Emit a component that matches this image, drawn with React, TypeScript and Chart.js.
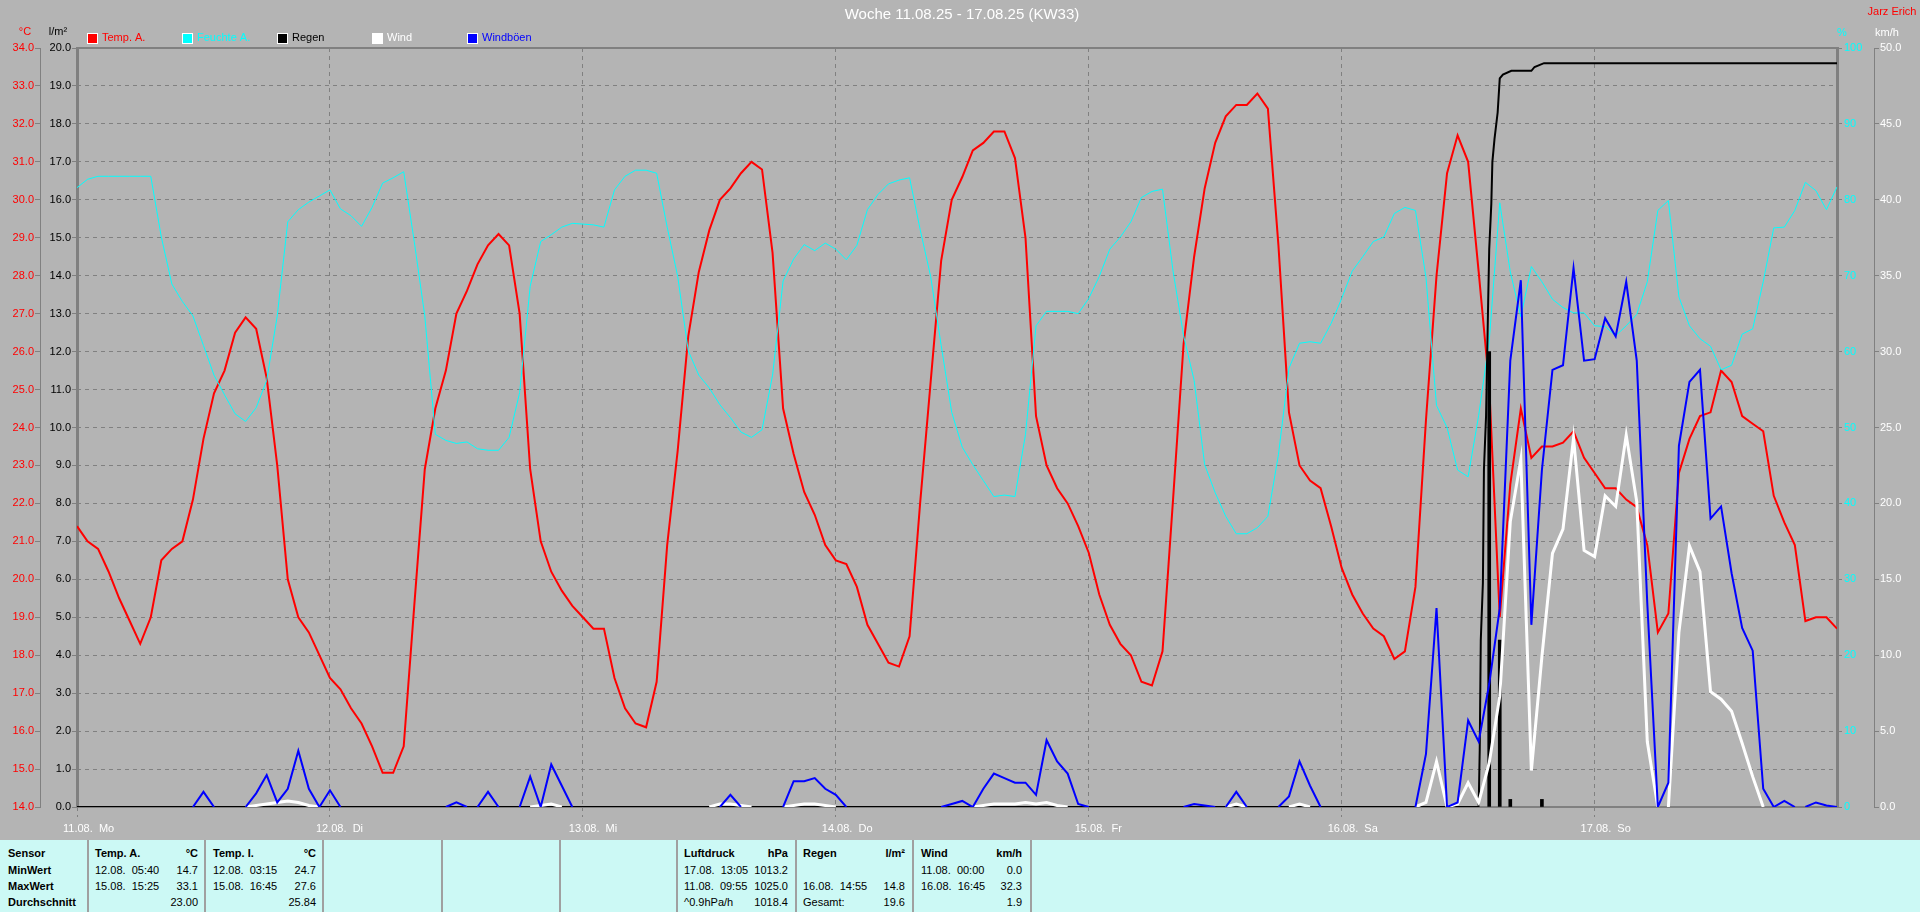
import React, { useEffect, useRef } from "react";
import { Chart, registerables } from "chart.js";

Chart.register(...registerables);

// ---------- data (hourly, hour 0 = 11.08. 00:00) ----------
const dayLabels = ["11.08.  Mo", "12.08.  Di", "13.08.  Mi", "14.08.  Do", "15.08.  Fr", "16.08.  Sa", "17.08.  So"];

const tempA = [
  21.4, 21.0, 20.8, 20.2, 19.5, 18.9, 18.3, 19.0, 20.5, 20.8, 21.0, 22.1, 23.7, 24.9, 25.5, 26.5, 26.9, 26.6, 25.3, 23.0, 20.0, 19.0, 18.6, 18.0,
  17.4, 17.1, 16.6, 16.2, 15.6, 14.9, 14.9, 15.6, 19.3, 22.9, 24.5, 25.5, 27.0, 27.6, 28.3, 28.8, 29.1, 28.8, 27.0, 22.9, 21.0, 20.2, 19.7, 19.3,
  19.0, 18.7, 18.7, 17.4, 16.6, 16.2, 16.1, 17.3, 20.9, 23.4, 26.4, 28.1, 29.2, 30.0, 30.3, 30.7, 31.0, 30.8, 28.6, 24.5, 23.3, 22.3, 21.7, 20.9,
  20.5, 20.4, 19.8, 18.8, 18.3, 17.8, 17.7, 18.5, 22.0, 25.2, 28.4, 30.0, 30.6, 31.3, 31.5, 31.8, 31.8, 31.1, 29.0, 24.3, 23.0, 22.4, 22.0, 21.4,
  20.7, 19.6, 18.8, 18.3, 18.0, 17.3, 17.2, 18.1, 22.1, 26.2, 28.5, 30.3, 31.5, 32.2, 32.5, 32.5, 32.8, 32.4, 28.8, 24.4, 23.0, 22.6, 22.4, 21.4,
  20.3, 19.6, 19.1, 18.7, 18.5, 17.9, 18.1, 19.8, 24.2, 28.0, 30.7, 31.7, 31.0, 28.1, 25.1, 19.0, 22.5, 24.5, 23.2, 23.5, 23.5, 23.6, 23.9, 23.2,
  22.8, 22.4, 22.4, 22.1, 21.9, 20.9, 18.6, 19.1, 22.8, 23.7, 24.3, 24.4, 25.5, 25.2, 24.3, 24.1, 23.9, 22.2, 21.5, 20.9, 18.9, 19.0, 19.0, 18.7,
];

const feuchteA = [
  81.6, 82.7, 83.1, 83.1, 83.1, 83.1, 83.1, 83.1, 75.1, 68.9, 66.6, 64.7, 60.8, 56.9, 54.3, 51.8, 50.8, 52.6, 56.2, 64.7, 77.1, 78.7, 79.7, 80.5,
  81.3, 78.8, 77.9, 76.5, 79.0, 82.2, 82.9, 83.7, 74.5, 64.7, 49.1, 48.3, 47.9, 48.1, 47.2, 47.0, 47.0, 48.7, 54.6, 68.6, 74.5, 75.4, 76.4, 76.9,
  76.8, 76.7, 76.4, 81.3, 83.1, 83.9, 83.9, 83.5, 76.4, 69.9, 60.1, 56.9, 55.2, 53.0, 51.3, 49.4, 48.7, 49.7, 56.9, 69.3, 72.2, 74.1, 73.3, 74.3,
  73.5, 72.1, 74.0, 78.7, 80.7, 82.1, 82.6, 82.9, 76.1, 69.9, 60.8, 52.0, 47.4, 45.1, 43.0, 40.9, 41.1, 40.9, 49.1, 63.4, 65.3, 65.3, 65.3, 65.0,
  67.0, 69.9, 73.5, 75.1, 77.1, 80.3, 81.1, 81.4, 70.6, 62.1, 56.2, 45.1, 41.4, 38.3, 36.0, 36.0, 36.8, 38.3, 46.4, 57.8, 61.1, 61.3, 61.1, 63.7,
  67.0, 70.6, 72.5, 74.5, 75.1, 78.2, 79.0, 78.6, 69.8, 52.9, 50.0, 44.4, 43.5, 51.6, 61.4, 79.6, 70.5, 64.6, 71.2, 69.2, 66.9, 65.8, 65.1, 65.1,
  63.4, 63.3, 62.1, 63.4, 64.9, 69.2, 78.6, 79.9, 67.2, 63.4, 61.7, 60.7, 57.6, 58.2, 62.3, 63.0, 69.2, 76.3, 76.4, 78.6, 82.3, 81.2, 78.7, 81.7,
];

const windboeen = [
  0, 0, 0, 0, 0, 0, 0, 0, 0, 0, 0, 0, 1.0, 0, 0, 0, 0, 0.9, 2.1, 0.3, 1.2, 3.7, 1.2, 0,
  1.1, 0, 0, 0, 0, 0, 0, 0, 0, 0, 0, 0, 0.3, 0, 0, 1.0, 0, 0, 0, 2.0, 0, 2.8, 1.4, 0,
  0, 0, 0, 0, 0, 0, 0, 0, 0, 0, 0, 0, 0, 0, 0.8, 0, 0, 0, 0, 0, 1.7, 1.7, 1.9, 1.2,
  0.8, 0, 0, 0, 0, 0, 0, 0, 0, 0, 0, 0.2, 0.4, 0, 1.2, 2.2, 1.9, 1.6, 1.6, 0.8, 4.4, 3.0, 2.2, 0.2,
  0, 0, 0, 0, 0, 0, 0, 0, 0, 0, 0.2, 0.1, 0, 0, 1.0, 0, 0, 0, 0, 0.7, 3.0, 1.4, 0, 0,
  0, 0, 0, 0, 0, 0, 0, 0, 3.5, 13.1, 0, 0.3, 5.7, 4.3, 8.1, 13.1, 29.4, 34.7, 12.0, 22.2, 28.8, 29.1, 35.5, 29.4,
  29.5, 32.2, 31.0, 34.6, 29.4, 13.4, 0, 1.6, 23.8, 28.0, 28.8, 19.0, 19.8, 15.4, 11.8, 10.3, 1.2, 0, 0.4, 0, 0, 0.3, 0.1, 0,
];

const wind = [
  0, 0, 0, 0, 0, 0, 0, 0, 0, 0, 0, 0, 0, 0, 0, 0, 0, 0.1, 0.2, 0.3, 0.4, 0.3, 0.1, 0,
  0, 0, 0, 0, 0, 0, 0, 0, 0, 0, 0, 0, 0, 0, 0, 0, 0, 0, 0, 0, 0.1, 0.2, 0, 0,
  0, 0, 0, 0, 0, 0, 0, 0, 0, 0, 0, 0, 0, 0.2, 0.2, 0.1, 0, 0, 0, 0, 0.1, 0.2, 0.2, 0.1,
  0, 0, 0, 0, 0, 0, 0, 0, 0, 0, 0, 0, 0, 0, 0.1, 0.2, 0.2, 0.2, 0.3, 0.2, 0.3, 0.1, 0, 0,
  0, 0, 0, 0, 0, 0, 0, 0, 0, 0, 0, 0, 0, 0, 0.2, 0, 0, 0, 0, 0, 0.2, 0, 0, 0,
  0, 0, 0, 0, 0, 0, 0, 0, 0.3, 3.0, 0, 0.2, 1.6, 0.3, 2.9, 7.3, 18.8, 22.9, 2.4, 9.9, 16.7, 18.3, 24.3, 16.9,
  16.5, 20.5, 19.8, 24.5, 20.1, 4.3, 0, 0, 11.5, 17.2, 15.5, 7.6, 7.1, 6.3, 4.2, 2.0, 0, 0, 0, 0, 0, 0, 0, 0,
];

const rainCumHours = [0, 133.0, 133.1, 133.2, 133.4, 133.5, 133.7, 133.9, 134.0, 134.2, 134.3, 134.5, 134.8, 135.0, 135.3, 136.1, 138.0, 138.3, 139.2, 167];
const rainCumValues = [0, 0, 1.5, 4.4, 5.9, 8.9, 10.3, 13.3, 14.7, 15.9, 17.0, 17.6, 18.3, 19.2, 19.3, 19.4, 19.4, 19.5, 19.6, 19.6];

const rainBarHours = [134, 135, 136, 139];
const rainBarValues = [12.0, 4.4, 0.2, 0.2];

const legendNames = ["Temp. A.", "Feuchte A.", "Regen", "Wind", "Windböen"];
const legendColors = ["#ff0000", "#00ffff", "#000000", "#ffffff", "#0000ff"];

const tableRowLabels = ["Sensor", "MinWert", "MaxWert", "Durchschnitt"];
const tableTitles = ["Temp. A.", "Temp. I.", "Luftdruck", "Regen", "Wind"];
const tableUnits = ["°C", "°C", "hPa", "l/m²", "km/h"];
const tableDates = [
  ["12.08.  05:40", "15.08.  15:25", ""],
  ["12.08.  03:15", "15.08.  16:45", ""],
  ["17.08.  13:05", "11.08.  09:55", "^0.9hPa/h"],
  ["", "16.08.  14:55", "Gesamt:"],
  ["11.08.  00:00", "16.08.  16:45", ""],
];
const tableValues = [
  ["14.7", "33.1", "23.00"],
  ["24.7", "27.6", "25.84"],
  ["1013.2", "1025.0", "1018.4"],
  ["", "14.8", "19.6"],
  ["0.0", "32.3", "1.9"],
];

// ---------- layout constants ----------
const FONT = "'Liberation Sans', Arial, sans-serif";
const colLeft = [95, 213, 684, 803, 921];
const colRight = [198, 316, 788, 905, 1022];
const separators = [88, 205, 323, 442, 560, 677, 796, 913, 1031];
const rowCenters = [853, 870, 886, 902];

const xy = (arr: number[]) => arr.map((y, i) => ({ x: i, y }));
const pairs = (xs: number[], ys: number[]) => xs.map((x, i) => ({ x, y: ys[i] }));
const hideZero = (ctx: any) =>
  ctx.p0.parsed.y === 0 && ctx.p1.parsed.y === 0 ? "rgba(0,0,0,0)" : undefined;

const overlayPlugin = {
  id: "overlay",
  beforeDatasetsDraw(chart: any) {
    const { ctx, chartArea: a } = chart;
    ctx.save();
    ctx.setLineDash([]);
    ctx.strokeStyle = "#808080";
    ctx.lineWidth = 2;
    ctx.beginPath();
    ctx.moveTo(a.left, a.bottom);
    ctx.lineTo(a.right, a.bottom);
    ctx.stroke();
    ctx.beginPath();
    ctx.moveTo(a.left - 1, a.top);
    ctx.lineTo(a.right + 1, a.top);
    ctx.stroke();
    ctx.lineWidth = 3;
    ctx.beginPath();
    ctx.moveTo(a.left + 0.5, a.top - 1);
    ctx.lineTo(a.left + 0.5, a.bottom + 1);
    ctx.stroke();
    ctx.beginPath();
    ctx.moveTo(a.right + 0.5, a.top - 1);
    ctx.lineTo(a.right + 0.5, a.bottom + 1);
    ctx.stroke();
    ctx.restore();
  },
  afterDraw(chart: any) {
    const { ctx } = chart;
    ctx.save();
    ctx.textBaseline = "middle";
    // title
    ctx.font = `15px ${FONT}`;
    ctx.fillStyle = "#ffffff";
    ctx.textAlign = "center";
    ctx.fillText("Woche 11.08.25 - 17.08.25 (KW33)", 962, 15);
    // author
    ctx.font = `11px ${FONT}`;
    ctx.fillStyle = "#ff0000";
    ctx.fillText("Jarz Erich", 1892, 12);
    // axis titles
    ctx.fillStyle = "#ff0000";
    ctx.fillText("°C", 25, 32);
    ctx.fillStyle = "#000000";
    ctx.fillText("l/m²", 58, 32);
    ctx.fillStyle = "#00ffff";
    ctx.fillText("%", 1842, 33);
    ctx.fillStyle = "#ffffff";
    ctx.fillText("km/h", 1887, 33);
    // legend
    ctx.textAlign = "left";
    legendNames.forEach((name, i) => {
      const x = 87 + i * 95;
      ctx.fillStyle = legendColors[i];
      ctx.fillRect(x, 33, 10, 10);
      ctx.strokeStyle = "#ffffff";
      ctx.lineWidth = 1;
      ctx.strokeRect(x + 0.5, 33.5, 10, 10);
      ctx.fillStyle = legendColors[i];
      ctx.fillText(name, x + 15, 38);
    });
    ctx.restore();
  },
};

const tickFont = { family: FONT, size: 11 };

export default function App() {
  const ref = useRef<HTMLCanvasElement>(null);

  useEffect(() => {
    if (!ref.current) return;
    const chart = new Chart(ref.current, {
      type: "line",
      data: {
        datasets: [
          {
            label: "Windböen",
            data: xy(windboeen),
            yAxisID: "yW",
            borderColor: "#0000ff",
            borderWidth: 2,
            pointRadius: 0,
            segment: { borderColor: hideZero },
            order: 0,
          } as any,
          {
            label: "Wind",
            data: xy(wind),
            yAxisID: "yW",
            borderColor: "#ffffff",
            borderWidth: 3,
            pointRadius: 0,
            segment: { borderColor: hideZero },
            order: 1,
          },
          {
            label: "Regen",
            data: pairs(rainCumHours, rainCumValues),
            yAxisID: "yR",
            borderColor: "#000000",
            borderWidth: 2,
            pointRadius: 0,
            order: 2,
          },
          {
            type: "bar",
            label: "Regen/h",
            data: pairs(rainBarHours, rainBarValues),
            yAxisID: "yR",
            backgroundColor: "#000000",
            barThickness: 3,
            grouped: false,
            order: 2,
          },
          {
            label: "Feuchte A.",
            data: xy(feuchteA),
            yAxisID: "yH",
            borderColor: "#00ffff",
            borderWidth: 1,
            pointRadius: 0,
            order: 3,
          },
          {
            label: "Temp. A.",
            data: xy(tempA),
            yAxisID: "yT",
            borderColor: "#ff0000",
            borderWidth: 2,
            pointRadius: 0,
            order: 4,
          },
        ] as any,
      },
      options: {
        responsive: false,
        animation: false,
        devicePixelRatio: 1,
        layout: { padding: { top: 48, left: 0, right: 0, bottom: 0 } },
        plugins: { legend: { display: false }, tooltip: { enabled: false }, title: { display: false } },
        elements: { line: { tension: 0 }, point: { radius: 0 } },
        scales: {
          x: {
            type: "linear",
            position: "bottom",
            min: 0,
            max: 167,
            offset: false,
            afterFit: (s: any) => {
              s.height = 33;
            },
            grid: {
              offset: false,
              color: "#808080",
              lineWidth: 1,
              drawOnChartArea: true,
              drawTicks: true,
              tickLength: 10,
              tickColor: "#808080",
              tickBorderDash: [4, 4],
            },
            border: { display: false, dash: [4, 4] },
            ticks: {
              stepSize: 24,
              includeBounds: false,
              autoSkip: false,
              maxRotation: 0,
              minRotation: 0,
              align: "start",
              labelOffset: -14,
              padding: 5,
              color: "#ffffff",
              font: tickFont,
              callback: (v: any) => dayLabels[Math.round(Number(v) / 24)] ?? "",
            },
          },
          yT: {
            type: "linear",
            position: "left",
            weight: 2,
            min: 14,
            max: 34,
            afterFit: (s: any) => {
              s.width = 40;
            },
            ticks: { stepSize: 1, color: "#ff0000", padding: 1, font: tickFont, callback: (v: any) => Number(v).toFixed(1) },
            grid: { drawOnChartArea: false, tickLength: 5, tickColor: "#808080", tickBorderDash: [] },
            border: { display: true, color: "#808080", width: 1 },
          },
          yR: {
            type: "linear",
            position: "left",
            weight: 1,
            min: 0,
            max: 20,
            afterFit: (s: any) => {
              s.width = 37;
            },
            ticks: { stepSize: 1, color: "#000000", padding: 1, font: tickFont, callback: (v: any) => Number(v).toFixed(1) },
            grid: { drawOnChartArea: true, color: "#808080", lineWidth: 1, tickLength: 5, tickColor: "#808080", tickBorderDash: [] },
            border: { display: false, dash: [4, 4] },
          },
          yH: {
            type: "linear",
            position: "right",
            weight: 1,
            min: 0,
            max: 100,
            afterFit: (s: any) => {
              s.width = 37;
            },
            ticks: { stepSize: 10, color: "#00ffff", padding: 2, font: tickFont, callback: (v: any) => String(Math.round(Number(v))) },
            grid: { drawOnChartArea: false, tickLength: 5, tickColor: "#808080", tickBorderDash: [] },
            border: { display: false },
          },
          yW: {
            type: "linear",
            position: "right",
            weight: 2,
            min: 0,
            max: 50,
            afterFit: (s: any) => {
              s.width = 46;
            },
            ticks: { stepSize: 5, color: "#ffffff", padding: 1, font: tickFont, callback: (v: any) => Number(v).toFixed(1) },
            grid: { drawOnChartArea: false, tickLength: 5, tickColor: "#808080", tickBorderDash: [] },
            border: { display: true, color: "#808080", width: 1 },
          },
        },
      } as any,
      plugins: [overlayPlugin],
    });
    return () => chart.destroy();
  }, []);

  const textStyle = (top: number, bold: boolean): React.CSSProperties => ({
    position: "absolute",
    top: top - 7,
    height: 14,
    lineHeight: "14px",
    fontWeight: bold ? "bold" : "normal",
    whiteSpace: "pre",
  });

  return (
    <div
      style={{
        position: "fixed",
        left: 0,
        top: 0,
        width: 1920,
        height: 912,
        background: "#b4b4b4",
        overflow: "hidden",
        fontFamily: FONT,
        fontSize: 11,
        color: "#000",
      }}
    >
      <canvas ref={ref} width={1920} height={840} style={{ display: "block", width: 1920, height: 840 }} />
      <div style={{ position: "absolute", left: 0, top: 840, width: 1920, height: 72, background: "#ccf9f5" }}>
        {separators.map((x, i) => (
          <div key={"s" + i} style={{ position: "absolute", left: x - 1, top: 0, width: 2, height: 72, background: "#a0a0a0" }} />
        ))}
        {tableRowLabels.map((t, i) => (
          <div key={"r" + i} style={{ ...textStyle(rowCenters[i] - 840, true), left: 8 }}>
            {t}
          </div>
        ))}
        {tableTitles.map((t, c) => (
          <React.Fragment key={"c" + c}>
            <div style={{ ...textStyle(rowCenters[0] - 840, true), left: colLeft[c] }}>{t}</div>
            <div style={{ ...textStyle(rowCenters[0] - 840, true), left: colRight[c] - 100, width: 100, textAlign: "right" }}>
              {tableUnits[c]}
            </div>
            {tableDates[c].map((d, r) => (
              <div key={"d" + r} style={{ ...textStyle(rowCenters[r + 1] - 840, false), left: colLeft[c] }}>
                {d}
              </div>
            ))}
            {tableValues[c].map((v, r) => (
              <div
                key={"v" + r}
                style={{ ...textStyle(rowCenters[r + 1] - 840, false), left: colRight[c] - 100, width: 100, textAlign: "right" }}
              >
                {v}
              </div>
            ))}
          </React.Fragment>
        ))}
      </div>
    </div>
  );
}
